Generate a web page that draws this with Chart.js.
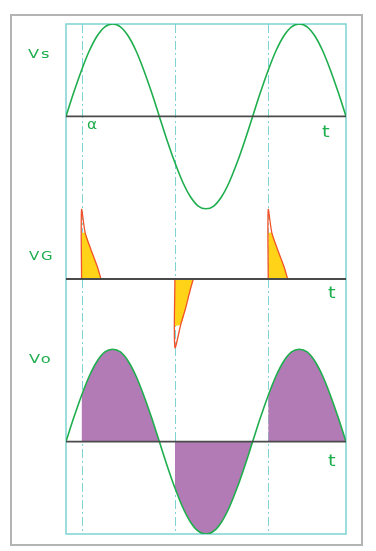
<!DOCTYPE html>
<html>
<head>
<meta charset="utf-8">
<script src="https://cdn.jsdelivr.net/npm/chart.js@4.4.1/dist/chart.umd.min.js"></script>
<style>
  html, body { margin: 0; padding: 0; background: #fff; }
  canvas { display: block; }
</style>
</head>
<body>
<canvas id="waveChart" width="376" height="551"></canvas>
<script>
// sample angles in degrees (1.5 cycles)
const angles = [0, 15, 30, 45, 60, 75, 90, 105, 120, 135, 150, 165, 180, 195, 210, 225, 240, 255,
                270, 285, 300, 315, 330, 345, 360, 375, 390, 405, 420, 435, 450, 465, 480, 495, 510, 525, 540];
const vsValues = [0, 0.26, 0.5, 0.71, 0.87, 0.97, 1, 0.97, 0.87, 0.71, 0.5, 0.26, 0, -0.26, -0.5, -0.71, -0.87, -0.97,
                  -1, -0.97, -0.87, -0.71, -0.5, -0.26, 0, 0.26, 0.5, 0.71, 0.87, 0.97, 1, 0.97, 0.87, 0.71, 0.5, 0.26, 0];
const voValues = [0, 0.26, 0.5, 0.71, 0.87, 0.97, 1, 0.97, 0.87, 0.71, 0.5, 0.26, 0, -0.26, -0.5, -0.71, -0.87, -0.97,
                  -1, -0.97, -0.87, -0.71, -0.5, -0.26, 0, 0.26, 0.5, 0.71, 0.87, 0.97, 1, 0.97, 0.87, 0.71, 0.5, 0.26, 0];

const firingAngles = [30, 210, 390];
const conduction = [[30, 180], [210, 360], [390, 540]];

// gate pulses, x = degrees after firing
const gateOffsets = [0, 0, 7, 18, 30, 37.5];
const gatePos = [0, 0.75, 0.5, 0.32, 0.14, 0];
const gateNegOffsets = [0, 0, 11.5, 21, 29, 35.5];
const gateNeg = [0, -0.74, -0.49, -0.31, -0.13, 0];
const gateFillOffsets = [0, 7, 18, 30, 37.5];
const gateFillPos = [0.5, 0.5, 0.32, 0.14, 0];
const gateFillNegOffsets = [0, 11.5, 21, 29, 35.5];
const gateFillNeg = [-0.51, -0.49, -0.31, -0.13, 0];
const gateSign = [1, -1, 1];

// vertical position of each trace's zero line
const VS_BASE = -1;
const VG_BASE = -2.76;
const VO_BASE = -4.52;

const GREEN = '#1fae4e';
const RED = '#f0522a';
const YELLOW = '#ffd317';
const PURPLE = '#b27bb5';
const TEAL = '#7dd4d2';

function toPoints(xs, ys, dx, base) {
    return xs.map((x, i) => ({ x: x + dx, y: ys[i] + base }));
}

const datasets = [];

datasets.push({
    data: toPoints(angles, vsValues, 0, VS_BASE),
    borderColor: GREEN, borderWidth: 1.6, cubicInterpolationMode: 'monotone', order: 1
});
datasets.push({
    data: toPoints(angles, voValues, 0, VO_BASE),
    borderColor: GREEN, borderWidth: 1.6, cubicInterpolationMode: 'monotone', order: 1
});

// gate pulses
firingAngles.forEach((a, i) => {
    const pos = gateSign[i] > 0;
    datasets.push({
        data: pos ? toPoints(gateOffsets, gatePos, a, VG_BASE) : toPoints(gateNegOffsets, gateNeg, a, VG_BASE),
        borderColor: RED, borderWidth: 1.3, tension: 0.3, order: 1
    });
    datasets.push({
        data: pos ? toPoints(gateFillOffsets, gateFillPos, a, VG_BASE) : toPoints(gateFillNegOffsets, gateFillNeg, a, VG_BASE),
        borderWidth: 0, backgroundColor: YELLOW, tension: 0.3,
        fill: { value: VG_BASE }, order: 2
    });
});

// conducting parts of the output
conduction.forEach(([from, to]) => {
    const pts = [];
    angles.forEach((x, i) => {
        if (x >= from && x <= to) pts.push({ x: x, y: voValues[i] + VO_BASE });
    });
    datasets.push({
        data: pts, borderWidth: 0, backgroundColor: PURPLE,
        cubicInterpolationMode: 'monotone', fill: { value: VO_BASE }, order: 2
    });
});

const labels = [
    { text: 'Vs', x: 28, y: 58, size: 13, sx: 1.25, sp: 1.5 },
    { text: 'VG', x: 29, y: 260, size: 13, sx: 1.15, sp: 1.5 },
    { text: 'Vo', x: 29, y: 363, size: 13, sx: 1.25, sp: 1.5 },
    { text: 't', x: 322, y: 137, size: 15, sx: 1.3, sp: 0 },
    { text: 't', x: 328, y: 298, size: 15, sx: 1.3, sp: 0 },
    { text: 't', x: 328, y: 466, size: 15, sx: 1.3, sp: 0 },
    { text: 'α', x: 87, y: 129, size: 14, sx: 1.1, sp: 0 }
];

const decorations = {
    id: 'decorations',
    beforeDraw(chart) {
        const ctx = chart.ctx;
        ctx.save();
        ctx.strokeStyle = '#b4b4b4';
        ctx.lineWidth = 2;
        ctx.strokeRect(11, 15, 351, 530);
        ctx.restore();
    },
    beforeDatasetsDraw(chart) {
        const ctx = chart.ctx;
        const area = chart.chartArea;
        const xs = chart.scales.x;
        ctx.save();
        ctx.strokeStyle = TEAL;
        ctx.lineWidth = 1.5;
        ctx.strokeRect(area.left, area.top, area.right - area.left, area.bottom - area.top);
        ctx.lineWidth = 1;
        ctx.setLineDash([9, 3, 2, 3]);
        firingAngles.forEach(a => {
            const px = Math.round(xs.getPixelForValue(a)) + 0.5;
            ctx.beginPath();
            ctx.moveTo(px, area.top);
            ctx.lineTo(px, area.bottom);
            ctx.stroke();
        });
        ctx.restore();
    },
    afterDatasetsDraw(chart) {
        const ctx = chart.ctx;
        const xs = chart.scales.x;
        const ys = chart.scales.y;
        ctx.save();
        ctx.strokeStyle = '#4a4a4a';
        ctx.lineWidth = 1.8;
        [VS_BASE, VG_BASE, VO_BASE].forEach(b => {
            const py = ys.getPixelForValue(b);
            ctx.beginPath();
            ctx.moveTo(xs.getPixelForValue(0), py);
            ctx.lineTo(xs.getPixelForValue(540), py);
            ctx.stroke();
        });
        ctx.fillStyle = GREEN;
        ctx.textBaseline = 'alphabetic';
        labels.forEach(l => {
            ctx.save();
            ctx.font = l.size + 'px "DejaVu Sans"';
            ctx.letterSpacing = l.sp + 'px';
            ctx.translate(l.x, l.y);
            ctx.scale(l.sx, 1);
            ctx.fillText(l.text, 0, 0);
            ctx.restore();
        });
        ctx.restore();
    }
};

new Chart(document.getElementById('waveChart'), {
    type: 'line',
    data: { datasets: datasets },
    options: {
        responsive: false,
        animation: false,
        layout: { padding: { left: 66, right: 30, top: 24, bottom: 17 } },
        elements: { point: { radius: 0 } },
        plugins: { legend: { display: false }, tooltip: { enabled: false } },
        scales: {
            x: { type: 'linear', min: 0, max: 540, display: false },
            y: { min: -5.52, max: 0, display: false }
        }
    },
    plugins: [decorations]
});
</script>
</body>
</html>
